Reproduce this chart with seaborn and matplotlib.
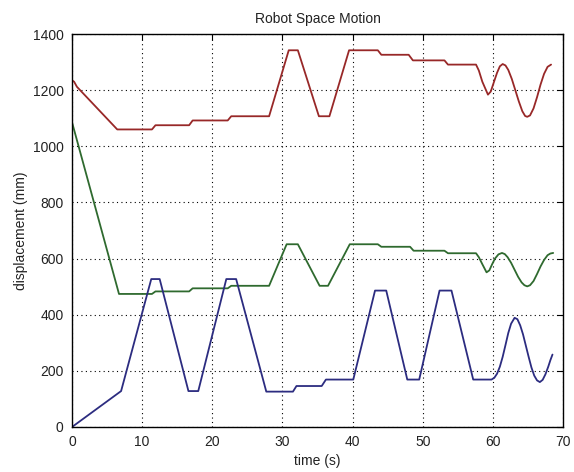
import pandas as pd
import matplotlib
matplotlib.use("Agg")
import matplotlib.pyplot as plt
import seaborn as sns

# values
red_t = [0, 0.3, 0.7, 6.45, 11.4, 11.9, 16.7, 17.2, 22.2, 22.7, 28.1, 30.9, 32.2,
         35.2, 36.7, 39.5, 43.6, 44.1, 48.0, 48.6, 53.1, 53.6, 57.6, 58.0, 58.5,
         59.3, 59.7, 60.1, 60.6, 61.0, 61.4, 61.8, 62.2, 62.7, 63.2, 63.7, 64.2,
         64.6, 64.9, 65.3, 65.8, 66.3, 66.8, 67.3, 67.8, 68.3]
red_v = [1235, 1230, 1212, 1060, 1060, 1075, 1075, 1092, 1092, 1107, 1107, 1342, 1342,
         1107, 1107, 1342, 1342, 1326, 1326, 1306, 1306, 1291, 1291, 1270, 1230,
         1184, 1195, 1225, 1262, 1285, 1293, 1288, 1272, 1240, 1200, 1160, 1125,
         1108, 1105, 1110, 1135, 1175, 1220, 1258, 1283, 1291]

green_t = [0, 6.7, 11.4, 11.9, 16.7, 17.2, 22.2, 22.7, 28.1, 30.6, 32.2, 35.3, 36.5,
           39.6, 43.6, 44.1, 48.2, 48.7, 53.1, 53.6, 57.6, 58.0, 58.5, 59.1, 59.5,
           59.9, 60.3, 60.8, 61.3, 61.7, 62.1, 62.6, 63.1, 63.6, 64.1, 64.5, 64.9,
           65.3, 65.8, 66.3, 66.8, 67.3, 67.8, 68.2, 68.6]
green_v = [1086, 474, 474, 483, 483, 494, 494, 503, 503, 651, 651, 503, 503,
           651, 651, 642, 642, 628, 628, 619, 619, 605, 580, 551, 558,
           580, 600, 615, 620, 616, 605, 585, 560, 535, 515, 505, 501,
           505, 520, 545, 572, 595, 612, 618, 620]

blue_t = [0, 7.0, 11.3, 12.5, 16.6, 18.0, 22.0, 23.4, 27.7, 31.5, 32.0, 35.6, 36.2,
          40.1, 43.2, 44.8, 47.8, 49.5, 52.4, 54.1, 57.2, 59.8, 60.2, 60.6, 61.0,
          61.4, 61.8, 62.2, 62.6, 63.1, 63.5, 63.9, 64.3, 64.7, 65.1, 65.5, 65.9,
          66.3, 66.7, 67.1, 67.5, 67.9, 68.2, 68.5]
blue_v = [0, 128, 527, 527, 128, 128, 527, 527, 126, 126, 146, 146, 169,
          169, 486, 486, 169, 169, 486, 486, 169, 169, 175, 190, 215,
          250, 292, 335, 368, 389, 384, 362, 330, 290, 250, 212, 183,
          166, 160, 168, 188, 215, 238, 258]

sns.set_style("white")
plt.rcParams['font.family'] = ['Liberation Sans', 'DejaVu Sans']

fig = plt.figure(figsize=(5.74, 4.72), dpi=100)
ax = fig.add_axes([72 / 574, 1 - 427 / 472, 491 / 574, 393 / 472])

for t, v, c in [(red_t, red_v, '#982828'), (green_t, green_v, '#2f6a2f'), (blue_t, blue_v, '#2c2c80')]:
    df = pd.DataFrame({'t': t, 'v': v})
    sns.lineplot(data=df, x='t', y='v', color=c, linewidth=1.3, estimator=None, sort=False, ax=ax)

ax.set_xlim(0, 70)
ax.set_ylim(0, 1400)
ax.set_xticks(range(0, 71, 10))
ax.set_yticks(range(0, 1401, 200))
ax.grid(True, color='black', linestyle=(0, (1, 3)), linewidth=0.8)
ax.tick_params(direction='in', top=True, right=True, length=4, labelsize=10,
               color='black', labelcolor='#222222', pad=6)
for s in ax.spines.values():
    s.set_color('black')
    s.set_linewidth(1.0)
ax.set_title('Robot Space Motion', fontsize=10, pad=8, color='#222222')
ax.set_xlabel('time (s)', fontsize=10, labelpad=3, color='#222222')
ax.set_ylabel('displacement (mm)', fontsize=10, labelpad=3, color='#222222')

fig.savefig('out.png', dpi=100)
